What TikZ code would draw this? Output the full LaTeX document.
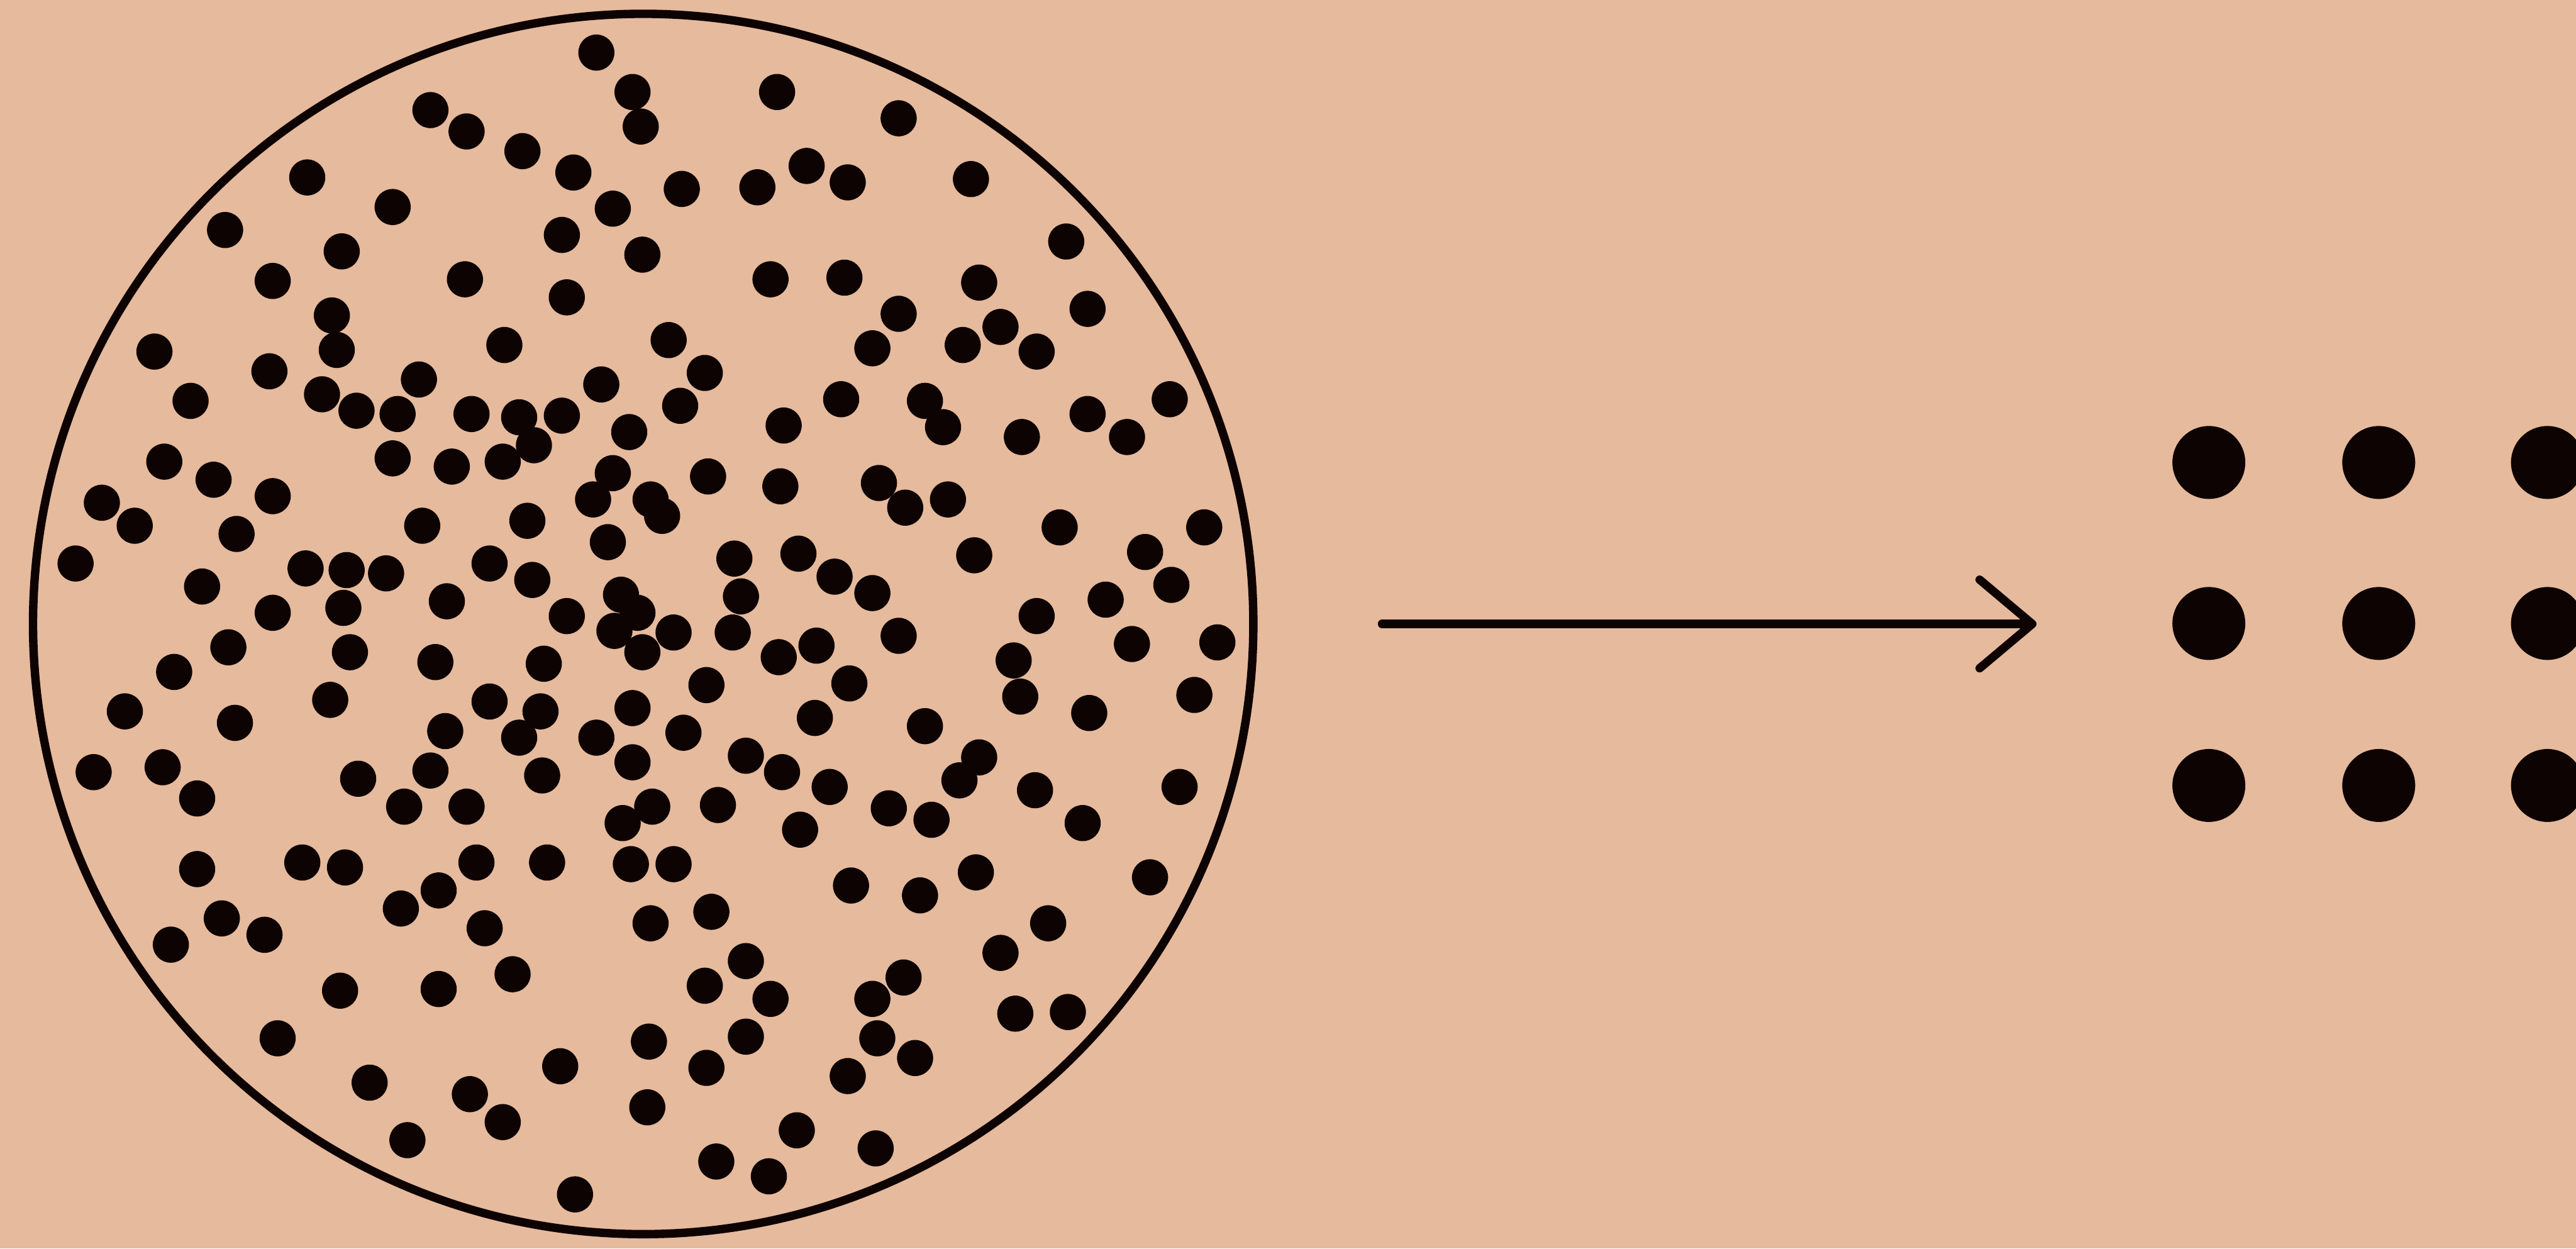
\documentclass[tikz,border=0pt]{standalone}
\usepackage{tikz}
\usetikzlibrary{arrows.meta}
\definecolor{peach}{HTML}{E6BA9C}
\definecolor{ink}{HTML}{0E0303}
\tikzset{
  every picture/.style={line join=round, line cap=round, >=Stealth},
  rim/.style={draw=ink, line width=4pt},
  grain/.style={fill=ink},
  bigdot/.style={fill=ink},
}

\begin{document}
\begin{tikzpicture}[x=0.2746mm,y=-0.2746mm]
\fill[peach] (0,0) rectangle (1568,760);
\useasboundingbox (0,0) rectangle (1568,760);
\clip (0,0) rectangle (1568,760);
% the disordered sample
\draw[rim] (391.5,379.8) circle[radius=371.4];
\foreach \px/\py in {363/32,385/56,473/56,262/67,284/80,390/77,547/72,318/92,349/105,187/108,
  491/101,516/111,591/109,461/114,415/115,373/127,239/126,137/140,342/143,208/153,
  391/155,649/147,283/170,166/171,469/170,514/169,596/172,345/181,202/192,547/191,
  662/188,609/199,586/210,631/214,94/214,205/213,307/210,407/207,531/212,429/227,
  164/226,255/231,116/244,196/240,217/250,242/252,287/252,316/254,342/253,366/234,
  414/247,512/243,563/244,662/252,712/243,574/260,477/259,622/266,686/266,325/271,
  383/263,239/279,275/284,306/281,100/281,130/292,166/302,62/306,82/320,144/325,
  257/320,321/317,373/288,361/304,396/304,403/314,370/330,431/290,475/296,535/294,
  551/309,577/304,645/321,733/321,697/336,46/343,123/357,186/346,211/347,235/349,
  298/343,324/353,447/340,486/337,508/351,531/361,593/338,713/356,166/373,209/370,
  272/366,345/375,378/362,451/363,673/365,631/375,388/373,374/384,410/385,446/385,
  497/393,547/387,689/392,741/391,139/394,213/397,391/397,265/403,331/404,106/409,
  474/400,517/416,617/402,430/417,201/426,298/427,329/433,76/433,143/440,385/431,
  621/424,727/423,663/434,496/437,563/442,416/446,316/449,271/445,363/449,454/460,
  476/470,505/479,596/461,584/475,385/464,57/470,99/467,120/486,218/474,262/469,
  330/472,246/491,284/491,397/491,379/501,437/490,541/492,567/499,630/481,659/501,
  718/479,487/505,120/529,184/525,210/528,290/525,333/525,384/526,410/526,518/539,
  560/545,594/531,700/534,267/542,244/553,295/565,135/559,161/569,104/575,396/562,
  433/555,638/562,609/580,454/585,312/593,207/603,267/602,429/600,469/608,550/595,
  531/608,618/617,650/616,395/634,169/632,454/631,534/632,557/644,341/649,430/650,
  516/655,225/659,286/666,306/683,394/674,485/688,533/699,248/694,436/707,468/716,
  350/727}
  \fill[grain] (\px,\py) circle[radius=11];
% arrow
\coordinate (from) at (841.2,379.8);
\coordinate (to) at (1239.6,379.8);
\draw[rim,-{Straight Barb[length=8.8mm,width=14.8mm,round]}] (from) -- (to);
% the ordered lattice
\foreach \gx in {1344.5,1447.9,1550.6}
  \foreach \gy in {281.5,379.5,478.1}
    \fill[bigdot] (\gx,\gy) circle[radius=22.2];
\end{tikzpicture}
\end{document}
